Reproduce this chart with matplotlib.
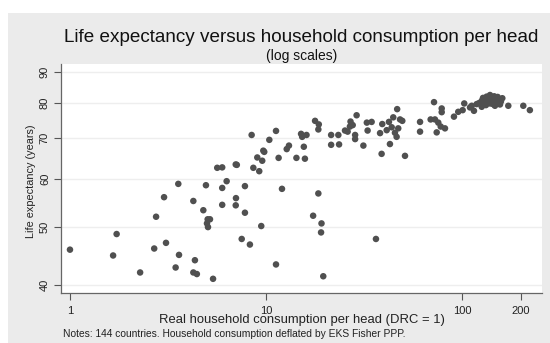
import matplotlib
matplotlib.use('Agg')
import matplotlib.pyplot as plt
from matplotlib.patches import Rectangle
from matplotlib.ticker import FixedLocator, NullLocator

plt.rcParams['font.family'] = ['Liberation Sans', 'DejaVu Sans']

# real household consumption per head (DRC = 1)
consumption = [
    1.00, 1.66, 1.73, 2.28, 2.69, 2.75, 3.02, 3.09, 3.46, 3.57,
    3.60, 4.26, 4.34, 4.26, 4.44, 4.79, 4.94, 5.04, 5.18, 5.00,
    5.06, 5.37, 5.64, 5.98, 5.98, 6.30, 5.98, 7.01, 7.10, 7.03,
    7.01, 7.81, 7.81, 7.52, 8.28, 8.62, 9.03, 9.24, 9.57, 9.46,
    11.25, 11.6, 12.07, 14.3, 9.69, 9.80, 8.45, 11.25, 10.4, 12.76,
    13.1, 15.8, 15.6, 15.1, 15.3, 16.1, 17.8, 18.6, 18.5, 18.5,
    21.5, 23.4, 21.5, 23.6, 25.3, 26.1, 26.8, 27.0, 27.7, 29.0,
    28.5, 28.5, 31.4, 32.7, 34.6, 33.0, 17.4, 19.2, 19.1, 19.6,
    36.4, 46.7, 44.6, 48.3, 49.6, 42.4, 39.2, 43.8, 41.3, 38.2,
    47.3, 45.5, 46.4, 42.9, 38.9, 51.2, 61.1, 61.1, 72.0, 78.8,
    78.8, 69.2, 72.8, 75.7, 77.9, 81.9, 74.3, 91.0, 95.7, 102.7,
    100.8, 109.9, 115.1, 118.8, 112.1, 126.1, 133.6, 139.0, 144.4, 153.2,
    160.6, 139.0, 147.3, 132.5, 126.1, 136.2, 150.3, 141.7, 156.3, 172.3,
    205.5, 222.0, 128.0, 135.0, 142.0, 146.0, 130.0, 148.0, 137.0, 152.0,
    122.0, 158.0, 144.0, 131.0,
]

# life expectancy (years)
life_exp = [
    45.8, 44.8, 48.6, 42.0, 46.0, 51.9, 55.9, 47.0, 42.8, 58.8,
    44.9, 55.1, 44.0, 42.0, 41.75, 53.2, 58.5, 51.4, 51.4, 50.6,
    49.9, 41.0, 62.5, 62.6, 57.9, 59.4, 54.3, 63.3, 63.2, 55.7,
    54.2, 58.3, 52.7, 47.7, 46.7, 62.5, 65.0, 61.7, 64.2, 50.1,
    43.3, 64.9, 57.7, 64.9, 66.7, 66.4, 70.8, 71.9, 69.5, 67.1,
    68.0, 64.7, 67.7, 71.1, 70.3, 70.8, 74.7, 73.7, 72.3, 56.7,
    70.8, 70.8, 68.2, 68.3, 72.0, 71.7, 73.1, 74.5, 73.5, 76.3,
    70.8, 69.7, 68.0, 74.2, 74.4, 72.0, 52.1, 50.6, 48.9, 41.4,
    47.7, 78.1, 75.7, 75.1, 74.7, 74.4, 73.8, 72.9, 72.1, 71.3,
    72.6, 71.4, 70.3, 68.4, 65.9, 65.4, 74.4, 71.7, 80.2, 78.3,
    77.2, 75.1, 75.1, 74.2, 73.1, 72.6, 71.5, 75.9, 77.3, 79.8,
    77.8, 78.6, 77.6, 79.6, 79.1, 80.6, 81.9, 82.4, 81.2, 80.9,
    81.4, 79.8, 79.1, 79.3, 78.8, 80.6, 80.1, 81.4, 79.5, 79.1,
    79.1, 77.8, 81.5, 80.0, 80.5, 82.0, 80.2, 80.6, 81.0, 81.8,
    79.9, 80.4, 79.6, 81.2,
]

x_ticks = [1, 10, 100, 200]
x_ticklabels = ['1', '10', '100', '200']
y_ticks = [40, 50, 60, 70, 80, 90]
y_ticklabels = ['40', '50', '60', '70', '80', '90']

bg = '#ebebeb'
fig = plt.figure(figsize=(5.5, 3.43), dpi=100)
fig.patch.set_facecolor('white')
fig.patches.append(Rectangle((8 / 550, 0), 1, 1 - 13 / 343, transform=fig.transFigure,
                             facecolor=bg, edgecolor='none', zorder=-10))

ax = fig.add_axes([61 / 550, 1 - 293 / 343, 481 / 550, 229 / 343])
ax.set_zorder(2)
ax.set_facecolor('white')
ax.scatter(consumption, life_exp, s=22, color='#505050', edgecolors='none', zorder=3)

ax.set_xscale('log')
ax.set_yscale('log')
ax.set_xlim(0.9, 256)
ax.set_ylim(38.85, 92.7)

ax.xaxis.set_major_locator(FixedLocator(x_ticks))
ax.xaxis.set_minor_locator(NullLocator())
ax.set_xticklabels(x_ticklabels)
ax.yaxis.set_major_locator(FixedLocator(y_ticks))
ax.yaxis.set_minor_locator(NullLocator())
ax.set_yticklabels(y_ticklabels, rotation=90, va='center')

ax.tick_params(axis='both', length=5, width=0.8, color='#555555', labelsize=8, labelcolor='#222222')
ax.tick_params(axis='x', pad=4)
ax.tick_params(axis='y', pad=3)

ax.yaxis.grid(True, color='#eeeeee', linewidth=1.0)
ax.set_axisbelow(True)
for side in ['top', 'right']:
    ax.spines[side].set_visible(False)
for side in ['left', 'bottom']:
    ax.spines[side].set_color('#666666')
    ax.spines[side].set_linewidth(0.9)

xc = (61 + 542) / 2 / 550
fig.text(xc, 1 - 38 / 343, 'Life expectancy versus household consumption per head',
         ha='center', va='center', fontsize=13.6, color='#111111')
fig.text(xc, 1 - 56 / 343, '(log scales)', ha='center', va='center', fontsize=10, color='#111111')
fig.text(xc, 1 - 320 / 343, 'Real household consumption per head (DRC = 1)',
         ha='center', va='center', fontsize=9.4, color='#222222')
fig.text(31 / 550, 1 - 181 / 343, 'Life expectancy (years)', rotation=90,
         ha='center', va='center', fontsize=7.8, color='#222222')
fig.text(63 / 550, 1 - 334 / 343, 'Notes: 144 countries. Household consumption deflated by EKS Fisher PPP.',
         ha='left', va='center', fontsize=7.4, color='#222222')

fig.savefig('out.png', dpi=100, facecolor=fig.get_facecolor())
